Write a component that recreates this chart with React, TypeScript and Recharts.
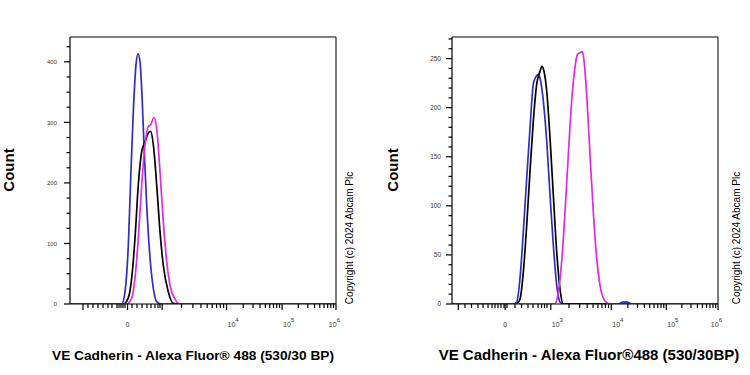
import React from 'react';
import { LineChart, Line, XAxis, YAxis } from 'recharts';

const FONT = '"Liberation Sans", Arial, Helvetica, sans-serif';

// x values are positions on the biexponential display axis (in "decades": 10^4 -> ~4)
const X_MIN = 1.164;
const X_MAX = 6.0;

// ---------- Left panel ----------
const leftBlueX = [1.164, 2.104, 2.164, 2.224, 2.268, 2.315, 2.364, 2.4, 2.437, 2.473, 2.509, 2.558, 2.619, 2.679, 2.74, 2.831, 6.0];
const leftBlueCount = [0, 0, 20, 97, 208, 318, 395, 413, 400, 345, 263, 164, 76, 26, 4, 0, 0];

const leftBlackX = [1.164, 2.133, 2.224, 2.286, 2.346, 2.406, 2.468, 2.528, 2.587, 2.631, 2.679, 2.74, 2.8, 2.86, 2.951, 3.042, 3.104, 6.0];
const leftBlackCount = [0, 0, 10, 43, 109, 197, 252, 268, 282, 285, 263, 197, 120, 64, 20, 1, 0, 0];

const leftMagentaX = [1.164, 2.195, 2.286, 2.346, 2.406, 2.468, 2.528, 2.587, 2.631, 2.691, 2.74, 2.8, 2.86, 2.922, 2.982, 3.073, 3.164, 6.0];
const leftMagentaCount = [0, 0, 10, 43, 109, 197, 263, 293, 296, 308, 290, 219, 136, 70, 31, 8, 0, 0];

const leftYMajors = [0, 100, 200, 300, 400];
const leftYMinors = [25, 50, 75, 125, 150, 175, 225, 250, 275, 325, 350, 375, 425];
const leftXMajors = [1.4, 2.21, 2.84, 4.01, 5.02, 6.0];
const leftXLinearMinors = [1.491, 1.582, 1.673, 1.764, 1.855, 1.927, 2.018, 2.055, 2.091, 2.127, 2.164, 2.291, 2.382, 2.473, 2.564, 2.636, 2.709, 2.764, 2.8];
const leftXLabels = [
  { value: 2.21, text: '0' },
  { value: 4.01, text: '4' },
  { value: 5.02, text: '5' },
  { value: 6.0, text: '6' },
];

// ---------- Right panel ----------
const rightBlueX = [1.164, 2.279, 2.34, 2.4, 2.46, 2.522, 2.582, 2.642, 2.686, 2.733, 2.764, 2.824, 2.886, 2.946, 3.006, 3.068, 3.128, 3.188, 4.182, 4.273, 4.346, 4.437, 6.0];
const rightBlueCount = [0, 0, 2, 26, 73, 128, 179, 224, 231, 234, 230, 207, 166, 111, 60, 19, 2, 0, 0, 2, 2, 0, 0];

const rightBlackX = [1.164, 2.328, 2.4, 2.46, 2.522, 2.582, 2.642, 2.704, 2.764, 2.8, 2.837, 2.886, 2.946, 3.006, 3.068, 3.128, 3.188, 6.0];
const rightBlackCount = [0, 0, 5, 32, 80, 135, 186, 224, 237, 242, 237, 217, 169, 111, 53, 15, 0, 0];

const rightMagentaX = [1.164, 2.977, 3.037, 3.097, 3.158, 3.219, 3.279, 3.34, 3.4, 3.442, 3.491, 3.533, 3.564, 3.613, 3.673, 3.733, 3.795, 3.855, 3.946, 4.037, 6.0];
const rightMagentaCount = [0, 0, 0, 12, 43, 94, 152, 207, 241, 254, 256, 257, 248, 213, 152, 94, 46, 19, 3, 0, 0];

const rightYMajors = [0, 50, 100, 150, 200, 250];
const rightYMinors = [10, 20, 30, 40, 60, 70, 80, 90, 110, 120, 130, 140, 160, 170, 180, 190, 210, 220, 230, 240, 260, 270];
const rightXMajors = [1.279, 2.13, 2.96, 4.06, 5.06, 6.0];
const rightXLinearMinors = [1.4, 1.519, 1.637, 1.728, 1.819, 1.891, 1.946, 2.0, 2.055, 2.109, 2.164, 2.309, 2.428, 2.546, 2.637, 2.728, 2.792, 2.846, 2.891];
const rightXLabels = [
  { value: 2.13, text: '0' },
  { value: 2.96, text: '3' },
  { value: 4.06, text: '4' },
  { value: 5.06, text: '5' },
  { value: 6.0, text: '6' },
];

const BLUE = '#2e2ec4';
const BLACK = '#000000';
const MAGENTA = '#dd2bdd';

const zip = (xs: number[], ys: number[]) => xs.map((x, i) => ({ x, y: ys[i] }));

// log-spaced minor ticks (2..9) between consecutive decade majors
const decadeMinors = (decades: number[]) => {
  const out: number[] = [];
  for (let i = 0; i < decades.length - 1; i++) {
    const a = decades[i];
    const b = decades[i + 1];
    for (let k = 2; k <= 9; k++) out.push(a + (b - a) * Math.log10(k));
  }
  return out;
};

const near = (a: number, b: number) => Math.abs(a - b) < 1e-6;

const makeXTick = (majors: number[], labels: { value: number; text: string }[]) => (props: any) => {
  const { x, y, payload } = props;
  const v = payload.value as number;
  const isMajor = majors.some((m) => near(m, v));
  const lab = labels.find((l) => near(l.value, v));
  const isLast = near(v, X_MAX);
  return (
    <g>
      <line x1={x} x2={x} y1={y} y2={y + (isMajor ? 6 : 4)} stroke="#000" strokeWidth={1.2} />
      {lab && lab.text === '0' && (
        <text x={x} y={y + 23} textAnchor="middle" fontSize={7} fill="#333" fontFamily={FONT}>
          0
        </text>
      )}
      {lab && lab.text !== '0' && (
        <text
          x={isLast ? x + 4 : x + 1}
          y={y + 23}
          textAnchor={isLast ? 'end' : 'start'}
          fontSize={7}
          fill="#333"
          fontFamily={FONT}
        >
          <tspan>10</tspan>
          <tspan dy={-5} fontSize={6}>
            {lab.text}
          </tspan>
        </text>
      )}
    </g>
  );
};

const makeYTick = (majors: number[], gap: number, fontSize: number) => (props: any) => {
  const { x, y, payload } = props;
  const v = payload.value as number;
  const isMajor = majors.includes(v);
  return (
    <g>
      <line x1={x - (isMajor ? 6 : 3.5)} x2={x} y1={y} y2={y} stroke="#000" strokeWidth={1.2} />
      {isMajor && (
        <text x={x - gap} y={y + 2.2} textAnchor="end" fontSize={fontSize} fill="#333" fontFamily={FONT}>
          {v}
        </text>
      )}
    </g>
  );
};

type Series = { data: { x: number; y: number }[]; color: string };

type PanelProps = {
  left: number;
  margin: { top: number; right: number; bottom: number; left: number };
  yMax: number;
  yMajors: number[];
  yMinors: number[];
  xMajors: number[];
  xLinearMinors: number[];
  xLabels: { value: number; text: string }[];
  series: Series[];
  yGap: number;
  yFont: number;
};

const Panel = (p: PanelProps) => {
  const decadeStart = p.xMajors.slice(2);
  const xTicks = [...p.xMajors, ...p.xLinearMinors, ...decadeMinors(decadeStart)].sort((a, b) => a - b);
  const yTicks = [...p.yMajors, ...p.yMinors].sort((a, b) => a - b);
  // axes take 1px each; subtract it from the margins so the plot box stays put
  const m = { top: p.margin.top - 1, right: p.margin.right - 1, bottom: p.margin.bottom - 1, left: p.margin.left - 1 };
  return (
    <div style={{ position: 'absolute', left: p.left, top: 0 }}>
      <LineChart width={375} height={375} margin={m}>
        <XAxis
          xAxisId="b"
          type="number"
          dataKey="x"
          domain={[X_MIN, X_MAX]}
          ticks={xTicks}
          interval={0}
          height={1}
          tickSize={0}
          tickMargin={0}
          tickLine={false}
          axisLine={{ stroke: '#000', strokeWidth: 1.2 }}
          tick={makeXTick(p.xMajors, p.xLabels)}
          allowDataOverflow
        />
        <XAxis
          xAxisId="t"
          orientation="top"
          type="number"
          dataKey="x"
          domain={[X_MIN, X_MAX]}
          height={1}
          tick={false}
          tickLine={false}
          axisLine={{ stroke: '#000', strokeWidth: 1 }}
          allowDataOverflow
        />
        <YAxis
          yAxisId="l"
          type="number"
          domain={[0, p.yMax]}
          ticks={yTicks}
          interval={0}
          width={1}
          tickSize={0}
          tickMargin={0}
          tickLine={false}
          axisLine={{ stroke: '#000', strokeWidth: 1.2 }}
          tick={makeYTick(p.yMajors, p.yGap, p.yFont)}
          allowDataOverflow
        />
        <YAxis
          yAxisId="r"
          orientation="right"
          type="number"
          domain={[0, p.yMax]}
          width={1}
          tick={false}
          tickLine={false}
          axisLine={{ stroke: '#000', strokeWidth: 1 }}
          allowDataOverflow
        />
        {p.series.map((s, i) => (
          <Line
            key={i}
            xAxisId="b"
            yAxisId="l"
            data={s.data}
            dataKey="y"
            type="monotone"
            stroke={s.color}
            strokeWidth={1.7}
            dot={false}
            isAnimationActive={false}
          />
        ))}
      </LineChart>
    </div>
  );
};

export default function App() {
  const leftSeries: Series[] = [
    { data: zip(leftBlueX, leftBlueCount), color: BLUE },
    { data: zip(leftBlackX, leftBlackCount), color: BLACK },
    { data: zip(leftMagentaX, leftMagentaCount), color: MAGENTA },
  ];
  const rightSeries: Series[] = [
    { data: zip(rightBlueX, rightBlueCount), color: BLUE },
    { data: zip(rightBlackX, rightBlackCount), color: BLACK },
    { data: zip(rightMagentaX, rightMagentaCount), color: MAGENTA },
  ];
  return (
    <div style={{ position: 'absolute', left: 0, top: 0, width: 750, height: 375, background: '#fff', overflow: 'hidden' }}>
      <Panel
        left={0}
        margin={{ top: 37, right: 39, bottom: 71, left: 70 }}
        yMax={441}
        yMajors={leftYMajors}
        yMinors={leftYMinors}
        xMajors={leftXMajors}
        xLinearMinors={leftXLinearMinors}
        xLabels={leftXLabels}
        series={leftSeries}
        yGap={13}
        yFont={6}
      />
      <Panel
        left={375}
        margin={{ top: 37, right: 32, bottom: 71, left: 77 }}
        yMax={272}
        yMajors={rightYMajors}
        yMinors={rightYMinors}
        xMajors={rightXMajors}
        xLinearMinors={rightXLinearMinors}
        xLabels={rightXLabels}
        series={rightSeries}
        yGap={11}
        yFont={6.5}
      />
      <svg width={750} height={375} style={{ position: 'absolute', left: 0, top: 0, pointerEvents: 'none' }}>
        <text x={8} y={170} transform="rotate(-90 8 170)" textAnchor="middle" dominantBaseline="central" fontFamily={FONT} fontWeight="bold" fontSize={15} fill="#000">
          Count
        </text>
        <text x={392} y={170} transform="rotate(-90 392 170)" textAnchor="middle" dominantBaseline="central" fontFamily={FONT} fontWeight="bold" fontSize={15} fill="#000">
          Count
        </text>
        <text x={193} y={360} textAnchor="middle" fontFamily={FONT} fontWeight="bold" fontSize={13.7} fill="#000">
          VE Cadherin - Alexa Fluor® 488 (530/30 BP)
        </text>
        <text x={589} y={360} textAnchor="middle" fontFamily={FONT} fontWeight="bold" fontSize={15} fill="#000">
          VE Cadherin - Alexa Fluor®488 (530/30BP)
        </text>
        <text x={349} y={238} transform="rotate(-90 349 238)" textAnchor="middle" dominantBaseline="central" fontFamily={FONT} fontSize={10} fill="#000">
          Copyright (c) 2024 Abcam Plc
        </text>
        <text x={736} y={238} transform="rotate(-90 736 238)" textAnchor="middle" dominantBaseline="central" fontFamily={FONT} fontSize={10} fill="#000">
          Copyright (c) 2024 Abcam Plc
        </text>
      </svg>
    </div>
  );
}
